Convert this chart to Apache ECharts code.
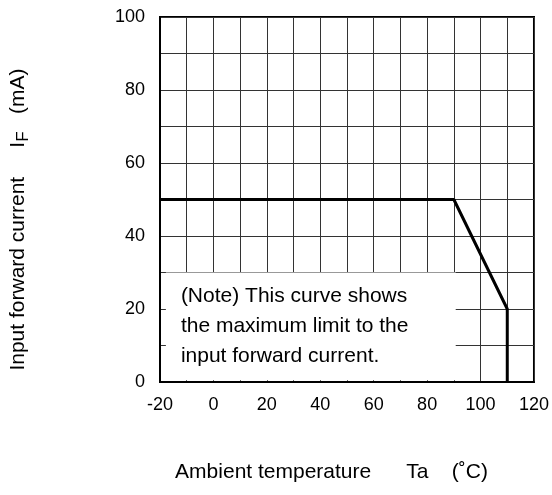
<!DOCTYPE html>
<html>
<head>
<meta charset="utf-8">
<script src="https://cdn.jsdelivr.net/npm/echarts@6/dist/echarts.min.js"></script>
<style>html,body{margin:0;padding:0;background:#fff;}#c{width:552px;height:495px;}</style>
</head>
<body>
<div id="c"></div>
<script>
// Data
const curveTemp = [-20, 90, 110, 110];
const curveCurrent = [50, 50, 20, 0];
const xTickLabels = [-20, 0, 20, 40, 60, 80, 100, 120];
const yTickLabels = [0, 20, 40, 60, 80, 100];
const noteLines = ['(Note) This curve shows', 'the maximum limit to the', 'input forward current.'];
const xTitle = 'Ambient temperature      Ta    (˚C)';
const yTitle = 'Input forward current     I{sub|F}   (mA)';

const FONT = '"Liberation Sans", Arial, sans-serif';
const chart = echarts.init(document.getElementById('c'), null, {renderer: 'canvas'});

const option = {
  backgroundColor: '#fff',
  animation: false,
  grid: {left: 157, right: 18, top: 17, bottom: 113, show: true, borderColor: '#000', borderWidth: 2, backgroundColor: 'transparent'},
  xAxis: {
    type: 'value', min: -20, max: 120, interval: 10,
    axisLine: {show: true, onZero: false, lineStyle: {color: '#000', width: 2}},
    axisTick: {show: false},
    splitLine: {show: true, lineStyle: {color: '#333', width: 1}},
    axisLabel: {
      color: '#000', fontSize: 18, fontFamily: FONT, margin: 14,
      formatter: v => xTickLabels.includes(v) ? String(v) : ''
    },
    name: xTitle, nameLocation: 'middle', nameGap: 80,
    nameTextStyle: {color: '#000', fontSize: 21, fontFamily: FONT, padding: [0, 31, 0, 0]}
  },
  yAxis: {
    type: 'value', min: 0, max: 100, interval: 10,
    axisLine: {show: true, onZero: false, lineStyle: {color: '#000', width: 2}},
    axisTick: {show: false},
    splitLine: {show: true, lineStyle: {color: '#333', width: 1}},
    axisLabel: {
      color: '#000', fontSize: 18, fontFamily: FONT, margin: 15,
      formatter: v => yTickLabels.includes(v) ? String(v) : ''
    },
    name: yTitle, nameLocation: 'middle', nameRotate: 90, nameGap: 128,
    nameTextStyle: {
      color: '#000', fontSize: 21, fontFamily: FONT, padding: [0, 40, 0, 0],
      rich: {sub: {fontSize: 17, fontFamily: FONT, color: '#000', padding: [10, 0, 0, 0]}}
    }
  },
  series: [
    {
      type: 'line', data: [], z: 1, silent: true,
      markArea: {
        silent: true,
        itemStyle: {color: '#fff', borderWidth: 0},
        label: {
          show: true, position: 'insideTopLeft', distance: 0, color: '#000', fontSize: 21, fontFamily: FONT,
          lineHeight: 30, padding: [9, 0, 0, 15],
          formatter: noteLines.join('\n')
        },
        data: [[{coord: [-17.8, 30]}, {coord: [90.7, 0.5]}]]
      }
    },
    {
      type: 'line', z: 5, silent: true, symbol: 'none',
      lineStyle: {color: '#000', width: 3},
      data: curveTemp.map((t, i) => [t, curveCurrent[i]])
    }
  ]
};
chart.setOption(option);
</script>
</body>
</html>
